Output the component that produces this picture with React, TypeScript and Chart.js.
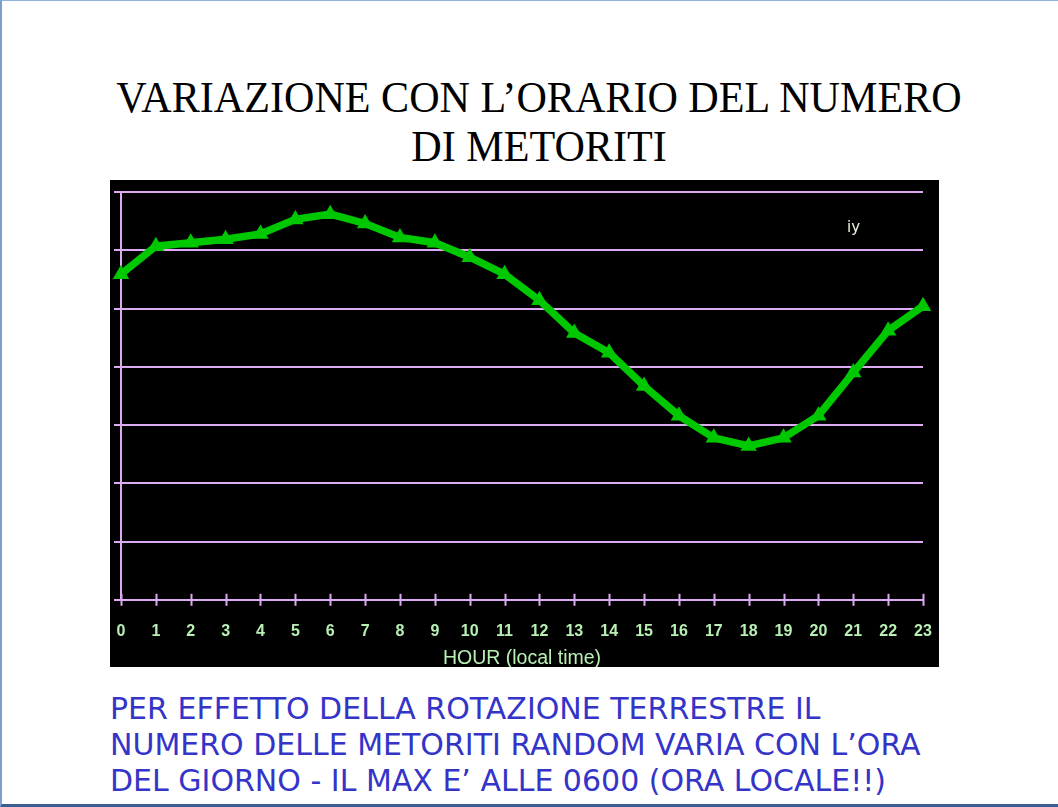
import { useEffect, useRef } from "react";
import { Chart, registerables } from "chart.js";

Chart.register(...registerables);

// hour of day (local time)
const hours = [
  "0", "1", "2", "3", "4", "5", "6", "7", "8", "9", "10", "11",
  "12", "13", "14", "15", "16", "17", "18", "19", "20", "21", "22", "23"
];

// relative meteor rate (grid units)
const meteorRate = [
  5.59, 6.07, 6.13, 6.19, 6.28, 6.53, 6.62, 6.46, 6.22, 6.13, 5.88, 5.59,
  5.14, 4.58, 4.24, 3.67, 3.16, 2.78, 2.64, 2.78, 3.16, 3.9, 4.62, 5.04
];

const yMin = 0;
const yMax = 7;

const titleLines = ["VARIAZIONE CON L\u2019ORARIO DEL NUMERO", "DI METORITI"];
const noteLines = [
  "PER EFFETTO DELLA ROTAZIONE TERRESTRE IL",
  "NUMERO DELLE METORITI RANDOM VARIA CON L\u2019ORA",
  "DEL GIORNO - IL MAX E\u2019 ALLE 0600 (ORA LOCALE!!)"
];

const LILAC = "#dcaaf2";
const GREEN = "#00c800";
const LABEL = "#b8f0b4";

// tick marks crossing the x axis
const crossTicks = {
  id: "crossTicks",
  afterDraw(chart: any) {
    const x = chart.scales.x;
    const { ctx, chartArea } = chart;
    ctx.save();
    ctx.strokeStyle = LILAC;
    ctx.lineWidth = 2;
    x.ticks.forEach((_t: any, i: number) => {
      const px = Math.round(x.getPixelForTick(i)) + 0.5;
      ctx.beginPath();
      ctx.moveTo(px, chartArea.bottom - 6);
      ctx.lineTo(px, chartArea.bottom + 6);
      ctx.stroke();
    });
    ctx.restore();
  }
};

function MeteorChart() {
  const canvasRef = useRef<HTMLCanvasElement | null>(null);

  useEffect(() => {
    if (!canvasRef.current) {
      return;
    }

    const chart = new Chart(canvasRef.current, {
      type: "line",
      data: {
        labels: hours,
        datasets: [
          {
            data: meteorRate,
            borderColor: GREEN,
            backgroundColor: GREEN,
            borderWidth: 7.5,
            tension: 0,
            pointStyle: "triangle",
            pointRadius: 9.5,
            pointBorderWidth: 0,
            pointBackgroundColor: GREEN,
            fill: false
          }
        ]
      },
      options: {
        responsive: true,
        maintainAspectRatio: false,
        animation: false,
        layout: { padding: { top: 12, left: 4, right: 16, bottom: 0 } },
        scales: {
          x: {
            offset: false,
            grid: {
              display: true,
              drawOnChartArea: false,
              drawTicks: true,
              tickLength: 19,
              color: "transparent"
            },
            border: { display: true, color: LILAC, width: 2 },
            ticks: {
              color: LABEL,
              padding: 3,
              maxRotation: 0,
              autoSkip: false,
              font: {
                family: "'Liberation Sans Narrow', 'Liberation Sans', Arial, sans-serif",
                size: 16,
                weight: "bold"
              }
            },
            title: {
              display: true,
              text: "HOUR (local time)",
              color: LABEL,
              padding: { top: 5, bottom: -1.5 },
              font: { family: "'Liberation Sans', Arial, sans-serif", size: 19.5, lineHeight: 1 }
            }
          },
          y: {
            min: yMin,
            max: yMax,
            ticks: { display: false, stepSize: 1 },
            grid: {
              color: LILAC,
              lineWidth: 2,
              drawTicks: true,
              tickLength: 7
            },
            border: { display: true, color: LILAC, width: 2 }
          }
        },
        plugins: {
          legend: { display: false },
          tooltip: { enabled: false }
        }
      },
      plugins: [crossTicks]
    });

    return () => chart.destroy();
  }, []);

  return (
    <div
      style={{
        position: "absolute",
        left: 108,
        top: 179,
        width: 829,
        height: 487,
        background: "#000"
      }}
    >
      <canvas ref={canvasRef} />
      <span
        style={{
          position: "absolute",
          left: 737,
          top: 38,
          color: "#e6f8e0",
          font: "15px 'DejaVu Sans', sans-serif"
        }}
      >
        iy
      </span>
    </div>
  );
}

export default function App() {
  return (
    <div
      style={{
        position: "absolute",
        left: 0,
        top: 0,
        width: 1058,
        height: 807,
        background: "#fff",
        overflow: "hidden",
        boxSizing: "border-box",
        borderTop: "1px solid #8eb1dd",
        borderLeft: "2px solid #7d9fd0",
        borderBottom: "3px solid #3b5d92"
      }}
    >
      <div
        style={{
          position: "absolute",
          left: 0,
          top: 72,
          width: 1074,
          textAlign: "center",
          font: "44px 'Liberation Serif', 'Times New Roman', serif",
          lineHeight: "49px",
          color: "#000",
          transform: "scaleX(0.957)",
          transformOrigin: "center"
        }}
      >
        {titleLines.map((l) => (
          <div key={l}>{l}</div>
        ))}
      </div>
      <MeteorChart />
      <div
        style={{
          position: "absolute",
          left: 108,
          top: 690,
          fontFamily: "'DejaVu Sans', sans-serif",
          fontSize: 30,
          lineHeight: "36px",
          color: "#3434c8",
          whiteSpace: "nowrap"
        }}
      >
        {noteLines.map((l) => (
          <div key={l}>{l}</div>
        ))}
      </div>
    </div>
  );
}
